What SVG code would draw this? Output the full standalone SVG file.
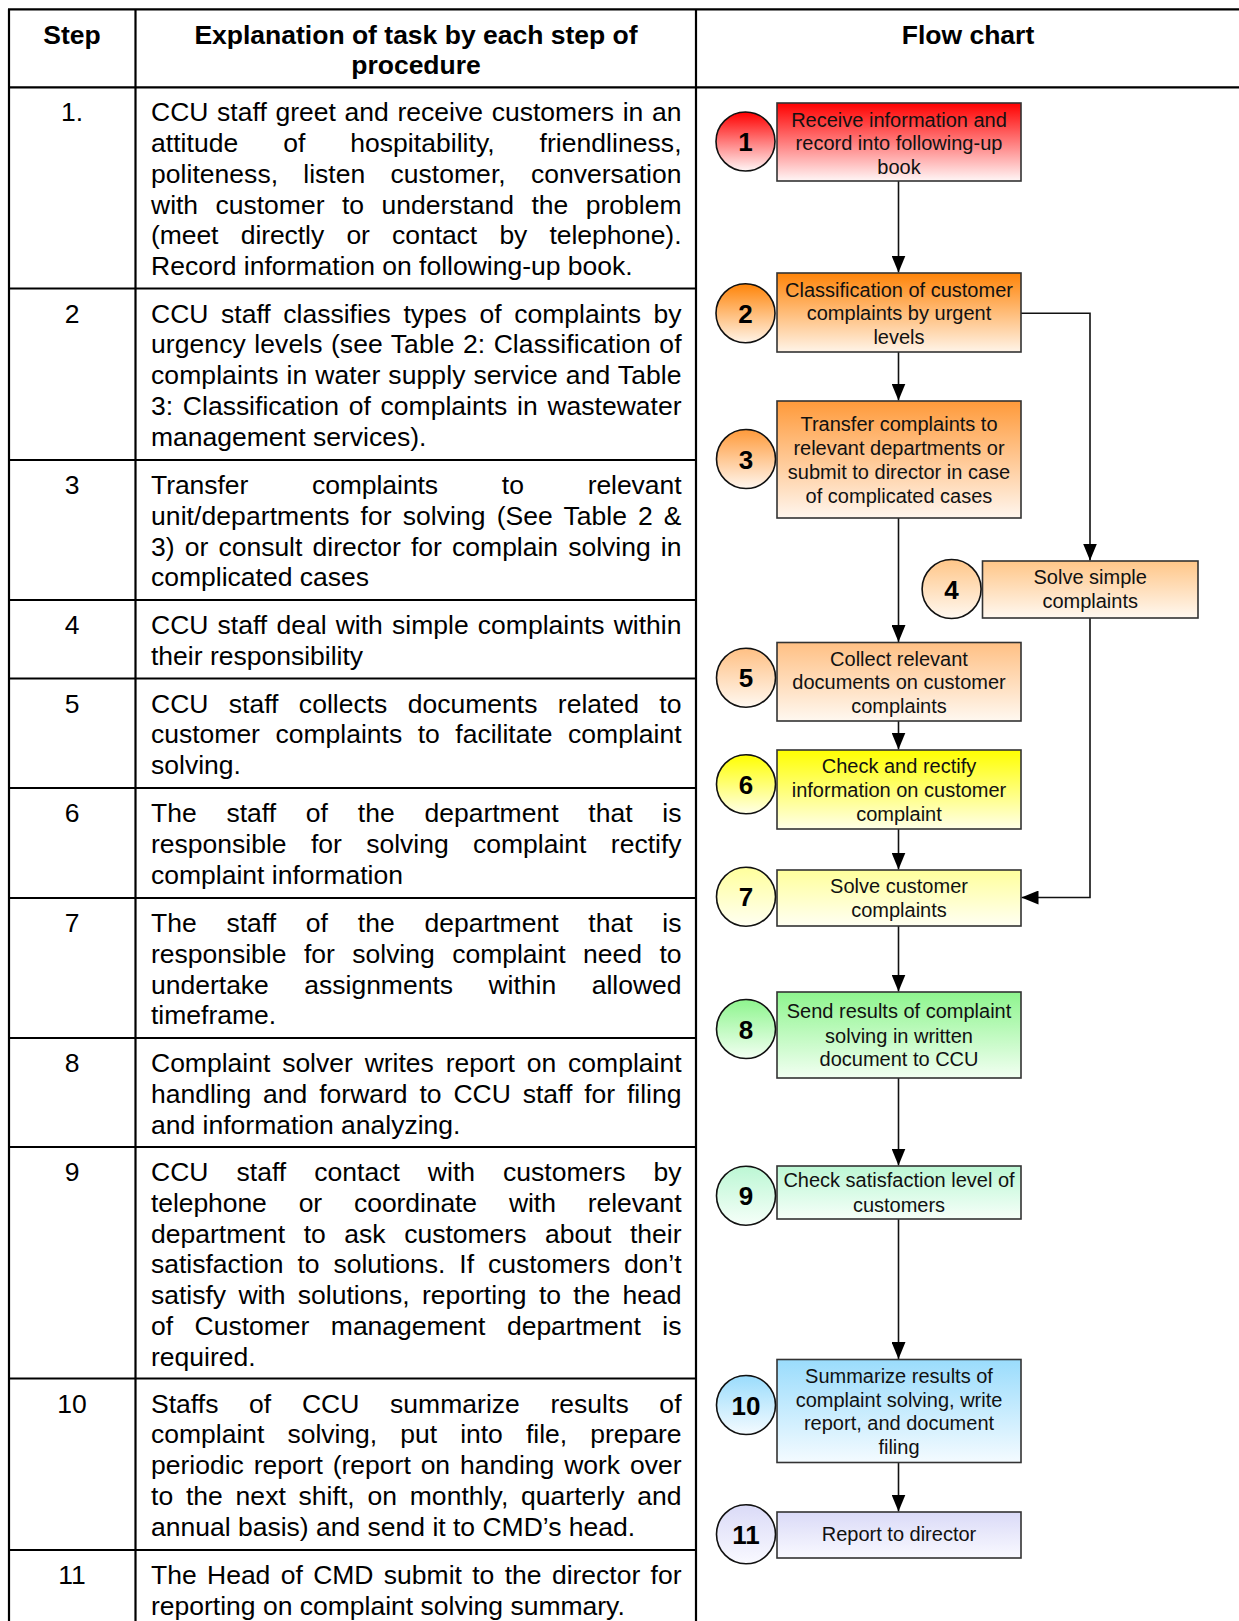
<svg xmlns="http://www.w3.org/2000/svg" width="1239" height="1621" viewBox="0 0 1239 1621">
<style>
.t{font-family:"Liberation Sans",Arial,sans-serif;font-size:26.5px;fill:#000}
.h{font-weight:bold;text-anchor:middle}
.n{text-anchor:middle}
.b{font-family:"Liberation Sans",Arial,sans-serif;font-size:20px;text-anchor:middle;fill:#111}
.c{font-family:"Liberation Sans",Arial,sans-serif;font-size:26px;font-weight:bold;text-anchor:middle;fill:#000}
.grid{stroke:#000;stroke-width:2.2;fill:none}
.box{stroke:#333;stroke-width:1.6}
.circ{stroke:#111;stroke-width:1.6}
.con{stroke:#111;stroke-width:1.6;fill:none;marker-end:url(#arr)}
</style>
<defs>
<marker id="arr" markerUnits="userSpaceOnUse" markerWidth="17" markerHeight="14" viewBox="0 0 17 14" refX="17" refY="7" orient="auto">
<path d="M0,0 L17,7 L0,14 z" fill="#000"/>
</marker>
<linearGradient id="g1" x1="0" y1="0" x2="0" y2="1"><stop offset="0" stop-color="#FF0000"/><stop offset="1" stop-color="#FFF6F6"/></linearGradient>
<linearGradient id="g2" x1="0" y1="0" x2="0" y2="1"><stop offset="0" stop-color="#FF8408"/><stop offset="1" stop-color="#FFF4E8"/></linearGradient>
<linearGradient id="g3" x1="0" y1="0" x2="0" y2="1"><stop offset="0" stop-color="#FF9A3A"/><stop offset="1" stop-color="#FFF6EE"/></linearGradient>
<linearGradient id="g4" x1="0" y1="0" x2="0" y2="1"><stop offset="0" stop-color="#FFC688"/><stop offset="1" stop-color="#FFF8F0"/></linearGradient>
<linearGradient id="g5" x1="0" y1="0" x2="0" y2="1"><stop offset="0" stop-color="#FFC084"/><stop offset="1" stop-color="#FFF8F0"/></linearGradient>
<linearGradient id="g6" x1="0" y1="0" x2="0" y2="1"><stop offset="0" stop-color="#FFFF00"/><stop offset="1" stop-color="#FFFFE8"/></linearGradient>
<linearGradient id="g7" x1="0" y1="0" x2="0" y2="1"><stop offset="0" stop-color="#FFFF9C"/><stop offset="1" stop-color="#FFFFF2"/></linearGradient>
<linearGradient id="g8" x1="0" y1="0" x2="0" y2="1"><stop offset="0" stop-color="#8EF58E"/><stop offset="1" stop-color="#F2FFF2"/></linearGradient>
<linearGradient id="g9" x1="0" y1="0" x2="0" y2="1"><stop offset="0" stop-color="#BCF7D4"/><stop offset="1" stop-color="#F6FFF9"/></linearGradient>
<linearGradient id="g10" x1="0" y1="0" x2="0" y2="1"><stop offset="0" stop-color="#9ADCFC"/><stop offset="1" stop-color="#F4FBFF"/></linearGradient>
<linearGradient id="g11" x1="0" y1="0" x2="0" y2="1"><stop offset="0" stop-color="#DADAF7"/><stop offset="1" stop-color="#F9F9FF"/></linearGradient>
</defs>
<rect width="1239" height="1621" fill="#fff"/>

<g id="table">
<path class="grid" d="M8,9.3 H1239 M8,87.3 H1239 M9,9.3 V1621 M135.5,9.3 V1621 M696,9.3 V1621"/>
<path class="grid" d="M8,288.5 H696 M8,460 H696 M8,600 H696 M8,678.5 H696 M8,788 H696 M8,898 H696 M8,1038 H696 M8,1147 H696 M8,1378.5 H696 M8,1550 H696"/>
<text class="t h" x="72" y="43.5">Step</text>
<text class="t h" x="416" y="43.5">Explanation of task by each step of</text>
<text class="t h" x="416" y="73.8">procedure</text>
<text class="t h" x="968" y="43.5">Flow chart</text>
</g>

<g id="rows">
<text class="t n" x="72" y="121.3">1.</text>
<text class="t" x="151" y="121.3" textLength="530.5" lengthAdjust="spacing" style="word-spacing:1.3px">CCU staff greet and receive customers in an</text>
<text class="t" x="151" y="152" textLength="530.5" lengthAdjust="spacing" style="word-spacing:37.4px">attitude of hospitability, friendliness,</text>
<text class="t" x="151" y="182.8" textLength="530.5" lengthAdjust="spacing" style="word-spacing:17.8px">politeness, listen customer, conversation</text>
<text class="t" x="151" y="213.5" textLength="530.5" lengthAdjust="spacing" style="word-spacing:10.1px">with customer to understand the problem</text>
<text class="t" x="151" y="244.3" textLength="530.5" lengthAdjust="spacing" style="word-spacing:15px">(meet directly or contact by telephone).</text>
<text class="t" x="151" y="275">Record information on following-up book.</text>

<text class="t n" x="72" y="322.5">2</text>
<text class="t" x="151" y="322.5" textLength="530.5" lengthAdjust="spacing" style="word-spacing:5.2px">CCU staff classifies types of complaints by</text>
<text class="t" x="151" y="353.3" textLength="530.5" lengthAdjust="spacing" style="word-spacing:1px">urgency levels (see Table 2: Classification of</text>
<text class="t" x="151" y="384" textLength="530.5" lengthAdjust="spacing" style="word-spacing:0.5px">complaints in water supply service and Table</text>
<text class="t" x="151" y="414.8" textLength="530.5" lengthAdjust="spacing" style="word-spacing:2.4px">3: Classification of complaints in wastewater</text>
<text class="t" x="151" y="445.5">management services).</text>

<text class="t n" x="72" y="494">3</text>
<text class="t" x="151" y="494" textLength="530.5" lengthAdjust="spacing" style="word-spacing:56.5px">Transfer complaints to relevant</text>
<text class="t" x="151" y="524.8" textLength="530.5" lengthAdjust="spacing" style="word-spacing:3.5px">unit/departments for solving (See Table 2 &amp;</text>
<text class="t" x="151" y="555.5" textLength="530.5" lengthAdjust="spacing" style="word-spacing:2.8px">3) or consult director for complain solving in</text>
<text class="t" x="151" y="586.3">complicated cases</text>

<text class="t n" x="72" y="634">4</text>
<text class="t" x="151" y="634" textLength="530.5" lengthAdjust="spacing" style="word-spacing:1.8px">CCU staff deal with simple complaints within</text>
<text class="t" x="151" y="664.8">their responsibility</text>

<text class="t n" x="72" y="712.5">5</text>
<text class="t" x="151" y="712.5" textLength="530.5" lengthAdjust="spacing" style="word-spacing:13px">CCU staff collects documents related to</text>
<text class="t" x="151" y="743.3" textLength="530.5" lengthAdjust="spacing" style="word-spacing:8.2px">customer complaints to facilitate complaint</text>
<text class="t" x="151" y="774">solving.</text>

<text class="t n" x="72" y="822">6</text>
<text class="t" x="151" y="822" textLength="530.5" lengthAdjust="spacing" style="word-spacing:22.4px">The staff of the department that is</text>
<text class="t" x="151" y="852.8" textLength="530.5" lengthAdjust="spacing" style="word-spacing:17px">responsible for solving complaint rectify</text>
<text class="t" x="151" y="883.5">complaint information</text>

<text class="t n" x="72" y="932">7</text>
<text class="t" x="151" y="932" textLength="530.5" lengthAdjust="spacing" style="word-spacing:22.4px">The staff of the department that is</text>
<text class="t" x="151" y="962.8" textLength="530.5" lengthAdjust="spacing" style="word-spacing:10.1px">responsible for solving complaint need to</text>
<text class="t" x="151" y="993.5" textLength="530.5" lengthAdjust="spacing" style="word-spacing:28.1px">undertake assignments within allowed</text>
<text class="t" x="151" y="1024.3">timeframe.</text>

<text class="t n" x="72" y="1072">8</text>
<text class="t" x="151" y="1072" textLength="530.5" lengthAdjust="spacing" style="word-spacing:4.5px">Complaint solver writes report on complaint</text>
<text class="t" x="151" y="1102.8" textLength="530.5" lengthAdjust="spacing" style="word-spacing:4.5px">handling and forward to CCU staff for filing</text>
<text class="t" x="151" y="1133.5">and information analyzing.</text>

<text class="t n" x="72" y="1181">9</text>
<text class="t" x="151" y="1181" textLength="530.5" lengthAdjust="spacing" style="word-spacing:20.7px">CCU staff contact with customers by</text>
<text class="t" x="151" y="1211.8" textLength="530.5" lengthAdjust="spacing" style="word-spacing:24.7px">telephone or coordinate with relevant</text>
<text class="t" x="151" y="1242.5" textLength="530.5" lengthAdjust="spacing" style="word-spacing:11.2px">department to ask customers about their</text>
<text class="t" x="151" y="1273.3" textLength="530.5" lengthAdjust="spacing" style="word-spacing:6.5px">satisfaction to solutions. If customers don’t</text>
<text class="t" x="151" y="1304" textLength="530.5" lengthAdjust="spacing" style="word-spacing:5px">satisfy with solutions, reporting to the head</text>
<text class="t" x="151" y="1334.8" textLength="530.5" lengthAdjust="spacing" style="word-spacing:14.1px">of Customer management department is</text>
<text class="t" x="151" y="1365.5">required.</text>

<text class="t n" x="72" y="1412.5">10</text>
<text class="t" x="151" y="1412.5" textLength="530.5" lengthAdjust="spacing" style="word-spacing:23.3px">Staffs of CCU summarize results of</text>
<text class="t" x="151" y="1443.3" textLength="530.5" lengthAdjust="spacing" style="word-spacing:15.7px">complaint solving, put into file, prepare</text>
<text class="t" x="151" y="1474" textLength="530.5" lengthAdjust="spacing" style="word-spacing:2.5px">periodic report (report on handing work over</text>
<text class="t" x="151" y="1504.8" textLength="530.5" lengthAdjust="spacing" style="word-spacing:5.3px">to the next shift, on monthly, quarterly and</text>
<text class="t" x="151" y="1535.5">annual basis) and send it to CMD’s head.</text>

<text class="t n" x="72" y="1584">11</text>
<text class="t" x="151" y="1584" textLength="530.5" lengthAdjust="spacing" style="word-spacing:3px">The Head of CMD submit to the director for</text>
<text class="t" x="151" y="1614.8">reporting on complaint solving summary.</text>
</g>

<g id="connectors">
<path class="con" d="M898.5,181 V272.5"/>
<path class="con" d="M898.5,352 V400.5"/>
<path class="con" d="M1021,313.3 H1090 V560.5"/>
<path class="con" d="M898.5,518 V642"/>
<path class="con" d="M1090,618 V897.5 H1021.5"/>
<path class="con" d="M898.5,721 V749.5"/>
<path class="con" d="M898.5,829 V869.5"/>
<path class="con" d="M898.5,926 V991.5"/>
<path class="con" d="M898.5,1078 V1165.5"/>
<path class="con" d="M898.5,1219 V1359"/>
<path class="con" d="M898.5,1462.5 V1511.5"/>
</g>

<g id="n1">
<rect class="box" x="777" y="103" width="244" height="78" fill="url(#g1)"/>
<circle class="circ" cx="745.5" cy="141.5" r="29.5" fill="url(#g1)"/>
<text class="c" x="745.5" y="151">1</text>
<text class="b" x="899" y="126.5">Receive information and</text>
<text class="b" x="899" y="150">record into following-up</text>
<text class="b" x="899" y="173.5">book</text>
</g>
<g id="n2">
<rect class="box" x="777" y="273" width="244" height="79" fill="url(#g2)"/>
<circle class="circ" cx="745.5" cy="313.3" r="29.5" fill="url(#g2)"/>
<text class="c" x="745.5" y="322.8">2</text>
<text class="b" x="899" y="296.5">Classification of customer</text>
<text class="b" x="899" y="320">complaints by urgent</text>
<text class="b" x="899" y="343.5">levels</text>
</g>
<g id="n3">
<rect class="box" x="777" y="401" width="244" height="117" fill="url(#g3)"/>
<circle class="circ" cx="746" cy="459" r="29.5" fill="url(#g3)"/>
<text class="c" x="746" y="468.5">3</text>
<text class="b" x="899" y="430.5">Transfer complaints to</text>
<text class="b" x="899" y="454.5">relevant departments or</text>
<text class="b" x="899" y="478.5">submit to director in case</text>
<text class="b" x="899" y="502.5">of complicated cases</text>
</g>
<g id="n4">
<rect class="box" x="982.5" y="561" width="215.5" height="57" fill="url(#g4)"/>
<circle class="circ" cx="951.6" cy="589" r="29.5" fill="url(#g4)"/>
<text class="c" x="951.6" y="598.5">4</text>
<text class="b" x="1090.2" y="584">Solve simple</text>
<text class="b" x="1090.2" y="608">complaints</text>
</g>
<g id="n5">
<rect class="box" x="777" y="642.5" width="244" height="78.5" fill="url(#g5)"/>
<circle class="circ" cx="746" cy="677.7" r="29.5" fill="url(#g5)"/>
<text class="c" x="746" y="687.2">5</text>
<text class="b" x="899" y="665.5">Collect relevant</text>
<text class="b" x="899" y="689">documents on customer</text>
<text class="b" x="899" y="713">complaints</text>
</g>
<g id="n6">
<rect class="box" x="777" y="750" width="244" height="79" fill="url(#g6)"/>
<circle class="circ" cx="746" cy="784.3" r="29.5" fill="url(#g6)"/>
<text class="c" x="746" y="793.8">6</text>
<text class="b" x="899" y="773">Check and rectify</text>
<text class="b" x="899" y="796.5">information on customer</text>
<text class="b" x="899" y="820.5">complaint</text>
</g>
<g id="n7">
<rect class="box" x="777" y="870" width="244" height="56" fill="url(#g7)"/>
<circle class="circ" cx="746" cy="896.7" r="29.5" fill="url(#g7)"/>
<text class="c" x="746" y="906.2">7</text>
<text class="b" x="899" y="893">Solve customer</text>
<text class="b" x="899" y="917">complaints</text>
</g>
<g id="n8">
<rect class="box" x="777" y="992" width="244" height="86" fill="url(#g8)"/>
<circle class="circ" cx="746" cy="1029" r="29.5" fill="url(#g8)"/>
<text class="c" x="746" y="1038.5">8</text>
<text class="b" x="899" y="1018">Send results of complaint</text>
<text class="b" x="899" y="1042.5">solving in written</text>
<text class="b" x="899" y="1065.5">document to CCU</text>
</g>
<g id="n9">
<rect class="box" x="777" y="1166" width="244" height="53" fill="url(#g9)"/>
<circle class="circ" cx="746" cy="1195.7" r="29.5" fill="url(#g9)"/>
<text class="c" x="746" y="1205.2">9</text>
<text class="b" x="899" y="1187">Check satisfaction level of</text>
<text class="b" x="899" y="1212">customers</text>
</g>
<g id="n10">
<rect class="box" x="777" y="1359.5" width="244" height="103" fill="url(#g10)"/>
<circle class="circ" cx="746" cy="1405" r="29.5" fill="url(#g10)"/>
<text class="c" x="746" y="1414.5">10</text>
<text class="b" x="899" y="1383">Summarize results of</text>
<text class="b" x="899" y="1406.5">complaint solving, write</text>
<text class="b" x="899" y="1430">report, and document</text>
<text class="b" x="899" y="1453.5">filing</text>
</g>
<g id="n11">
<rect class="box" x="777" y="1512" width="244" height="46" fill="url(#g11)"/>
<circle class="circ" cx="746" cy="1534.3" r="29.5" fill="url(#g11)"/>
<text class="c" x="746" y="1543.8">11</text>
<text class="b" x="899" y="1541">Report to director</text>
</g>
</svg>
